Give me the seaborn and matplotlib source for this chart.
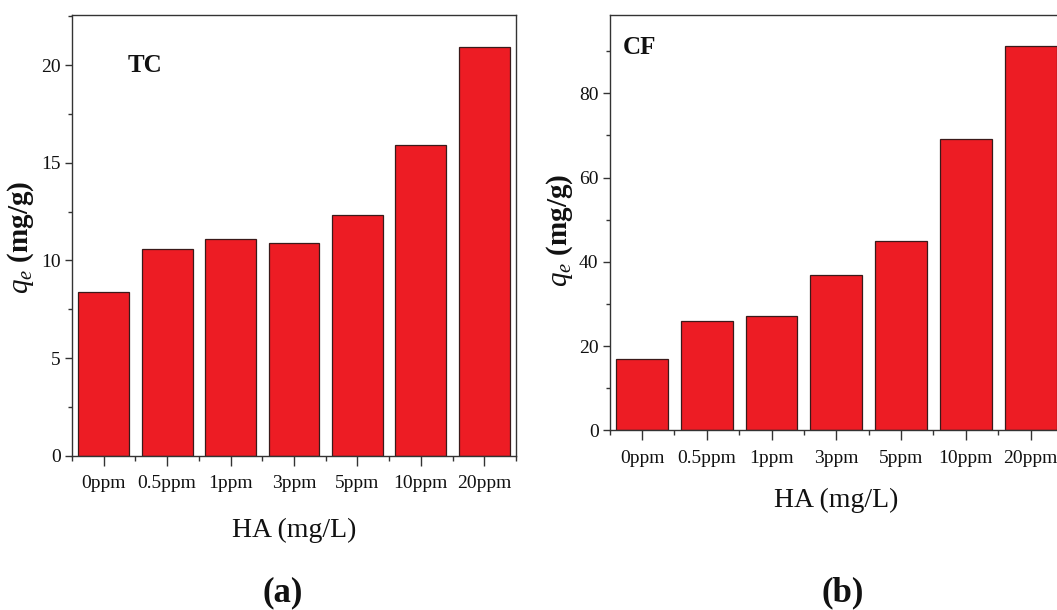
import matplotlib
matplotlib.use("Agg")
import matplotlib.pyplot as plt
import seaborn as sns
import numpy as np
from matplotlib.ticker import FixedLocator, MultipleLocator

categories = ["0ppm", "0.5ppm", "1ppm", "3ppm", "5ppm", "10ppm", "20ppm"]
tc_values = [8.4, 10.6, 11.1, 10.9, 12.3, 15.9, 20.9]
cf_values = [17.0, 26.0, 27.1, 36.8, 44.9, 69.1, 91.3]
panel_tags = ["TC", "CF"]
panel_captions = ["(a)", "(b)"]
xlabel_text = "HA (mg/L)"
ylabel_text = r"$q_e$ (mg/g)"

sns.set_style("ticks")
plt.rcParams["font.family"] = ["Liberation Serif", "DejaVu Serif"]
plt.rcParams["mathtext.fontset"] = "custom"
plt.rcParams["mathtext.rm"] = "Liberation Serif"
plt.rcParams["mathtext.it"] = "Liberation Serif:italic"
plt.rcParams["mathtext.bf"] = "Liberation Serif:bold"
plt.rcParams["text.color"] = "#111111"
plt.rcParams["axes.labelcolor"] = "#111111"
plt.rcParams["xtick.labelcolor"] = "#111111"
plt.rcParams["ytick.labelcolor"] = "#111111"

W, H = 1057, 610
fig = plt.figure(figsize=(W / 100, H / 100), dpi=100)

def px_axes(l, t, r, b):
    return fig.add_axes([l / W, 1 - b / H, (r - l) / W, (b - t) / H])

ax1 = px_axes(72, 15, 516, 455.7)
ax2 = px_axes(609.7, 15, 1063, 430.3)

bar_color = "#ED1C24"
edge = "#3a1a1a"
spine_c = "#333333"

configs = [
    (ax1, tc_values, 22.56, 5, 2.5, (128, 65), (-0.115, 0.496), -0.169, (283, 593)),
    (ax2, cf_values, 98.6, 20, 10, (623, 48), (-0.110, 0.482), -0.170, (843, 593)),
]

for i, (ax, vals, ymax, major, minor, tagpos, ylc, xly, cappos) in enumerate(configs):
    sns.barplot(x=categories, y=vals, ax=ax, color=bar_color, saturation=1,
                width=0.8, edgecolor=edge, linewidth=0.9)
    ax.set_xlim(-0.5, 6.5)
    ax.set_ylim(0, ymax)
    ax.yaxis.set_major_locator(MultipleLocator(major))
    ax.yaxis.set_minor_locator(MultipleLocator(minor))
    ax.xaxis.set_minor_locator(FixedLocator(np.arange(-0.5, 7, 1.0)))
    for s in ax.spines.values():
        s.set_visible(True)
        s.set_color(spine_c)
        s.set_linewidth(1.0)
    ax.tick_params(axis="x", which="major", length=7, width=1, direction="out",
                   labelsize=14, pad=7, color=spine_c)
    ax.tick_params(axis="x", which="minor", length=3.5, width=1, direction="out",
                   color=spine_c)
    ax.tick_params(axis="y", which="major", length=5, width=1, direction="out",
                   labelsize=14, pad=3, color=spine_c)
    ax.tick_params(axis="y", which="minor", length=3, width=1, direction="out",
                   color=spine_c)
    ax.set_xlabel(xlabel_text, fontsize=20)
    ax.xaxis.set_label_coords(0.5, xly)
    ax.xaxis.label.set_va("center")
    ax.set_ylabel(ylabel_text, fontsize=21, fontweight="bold")
    ax.yaxis.set_label_coords(*ylc)
    ax.yaxis.label.set_va("center")
    fig.text(tagpos[0] / W, 1 - tagpos[1] / H, panel_tags[i], fontsize=18,
             fontweight="bold", ha="left", va="center")
    fig.text(cappos[0] / W, 1 - cappos[1] / H, panel_captions[i], fontsize=25,
             fontweight="bold", ha="center", va="center")

fig.savefig("out.png", dpi=100)
